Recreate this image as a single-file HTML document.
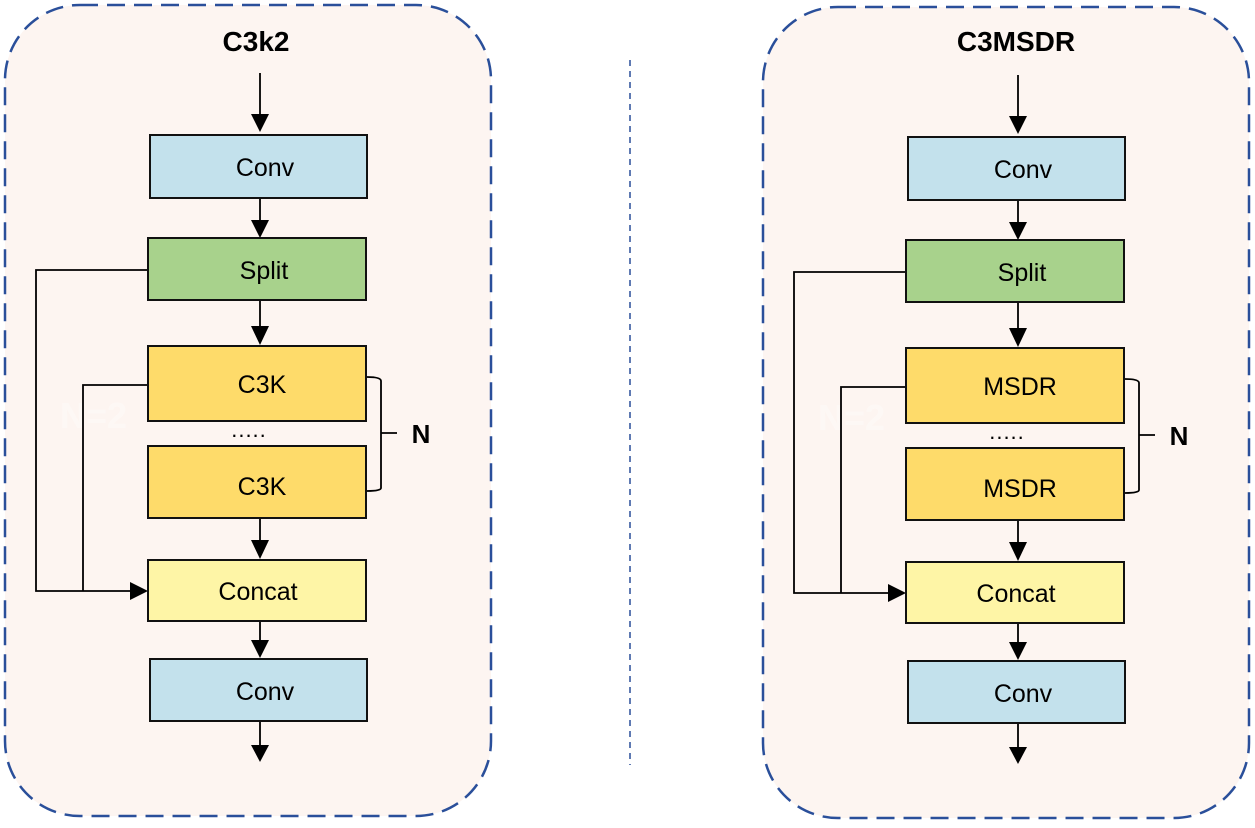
<!DOCTYPE html>
<html><head><meta charset="utf-8"><style>
body{margin:0;background:#fff;}
svg text{font-family:"Liberation Sans",sans-serif;}
</style></head><body>
<svg width="1255" height="823" viewBox="0 0 1255 823" xmlns="http://www.w3.org/2000/svg">
<line x1="630" y1="60" x2="630" y2="765" stroke="#2a4f9a" stroke-width="1.5" stroke-dasharray="6,5"/>
<g id="L">
<rect x="5" y="5" width="486" height="811" rx="75" fill="#fdf5f1" stroke="#2a4f9a" stroke-width="2.5" stroke-dasharray="18,9"/>
<text x="256" y="51" font-size="28" font-weight="bold" text-anchor="middle">C3k2</text>
<text x="60" y="428" font-size="36" font-weight="bold" fill="#fff" opacity="0.35">N=2</text>
<g stroke="#000" stroke-width="1.8" fill="none">
<line x1="260" y1="73" x2="260" y2="114"/>
<line x1="260" y1="198" x2="260" y2="220"/>
<line x1="260" y1="300" x2="260" y2="326"/>
<line x1="260" y1="518" x2="260" y2="540"/>
<line x1="260" y1="621" x2="260" y2="640"/>
<line x1="260" y1="721" x2="260" y2="745"/>
<polyline points="148,270 36,270 36,591 130,591"/>
<polyline points="148,385 83,385 83,591"/>
<path d="M367,377 Q381,377 381,381 L381,488 Q381,491 367,491 M381,433 L397,433"/>
</g>
<g fill="#000">
<polygon points="251,114 269,114 260,132"/>
<polygon points="251,220 269,220 260,238"/>
<polygon points="251,326 269,326 260,345"/>
<polygon points="251,540 269,540 260,559"/>
<polygon points="251,640 269,640 260,658"/>
<polygon points="251,745 269,745 260,762"/>
<polygon points="130,582 130,600 148,591"/>
</g>
<g stroke="#111" stroke-width="2">
<rect x="150" y="135" width="217" height="63" fill="#c3e1ec"/>
<rect x="148" y="238" width="218" height="62" fill="#a8d28c"/>
<rect x="148" y="346" width="218" height="75" fill="#fedb6a"/>
<rect x="148" y="446" width="218" height="72" fill="#fedb6a"/>
<rect x="148" y="560" width="218" height="61" fill="#fef5a6"/>
<rect x="150" y="659" width="217" height="62" fill="#c3e1ec"/>
</g>
<g font-size="25" text-anchor="middle">
<text x="265" y="176">Conv</text>
<text x="264" y="279">Split</text>
<text x="262" y="393">C3K</text>
<text x="249" y="437" font-size="22" letter-spacing="1">.....</text>
<text x="262" y="495">C3K</text>
<text x="258" y="600">Concat</text>
<text x="265" y="700">Conv</text>
<text x="421" y="443" font-size="26" font-weight="bold">N</text>
</g>
</g>
<g transform="translate(758,2)">
<rect x="5" y="5" width="486" height="811" rx="75" fill="#fdf5f1" stroke="#2a4f9a" stroke-width="2.5" stroke-dasharray="18,9"/>
<text x="258" y="49" font-size="28" font-weight="bold" text-anchor="middle">C3MSDR</text>
<text x="60" y="428" font-size="36" font-weight="bold" fill="#fff" opacity="0.35">N=2</text>
<g stroke="#000" stroke-width="1.8" fill="none">
<line x1="260" y1="73" x2="260" y2="114"/>
<line x1="260" y1="198" x2="260" y2="220"/>
<line x1="260" y1="300" x2="260" y2="326"/>
<line x1="260" y1="518" x2="260" y2="540"/>
<line x1="260" y1="621" x2="260" y2="640"/>
<line x1="260" y1="721" x2="260" y2="745"/>
<polyline points="148,270 36,270 36,591 130,591"/>
<polyline points="148,385 83,385 83,591"/>
<path d="M367,377 Q381,377 381,381 L381,488 Q381,491 367,491 M381,433 L397,433"/>
</g>
<g fill="#000">
<polygon points="251,114 269,114 260,132"/>
<polygon points="251,220 269,220 260,238"/>
<polygon points="251,326 269,326 260,345"/>
<polygon points="251,540 269,540 260,559"/>
<polygon points="251,640 269,640 260,658"/>
<polygon points="251,745 269,745 260,762"/>
<polygon points="130,582 130,600 148,591"/>
</g>
<g stroke="#111" stroke-width="2">
<rect x="150" y="135" width="217" height="63" fill="#c3e1ec"/>
<rect x="148" y="238" width="218" height="62" fill="#a8d28c"/>
<rect x="148" y="346" width="218" height="75" fill="#fedb6a"/>
<rect x="148" y="446" width="218" height="72" fill="#fedb6a"/>
<rect x="148" y="560" width="218" height="61" fill="#fef5a6"/>
<rect x="150" y="659" width="217" height="62" fill="#c3e1ec"/>
</g>
<g font-size="25" text-anchor="middle">
<text x="265" y="176">Conv</text>
<text x="264" y="279">Split</text>
<text x="262" y="393">MSDR</text>
<text x="249" y="437" font-size="22" letter-spacing="1">.....</text>
<text x="262" y="495">MSDR</text>
<text x="258" y="600">Concat</text>
<text x="265" y="700">Conv</text>
<text x="421" y="443" font-size="26" font-weight="bold">N</text>
</g>
</g>
</svg>
</body></html>
